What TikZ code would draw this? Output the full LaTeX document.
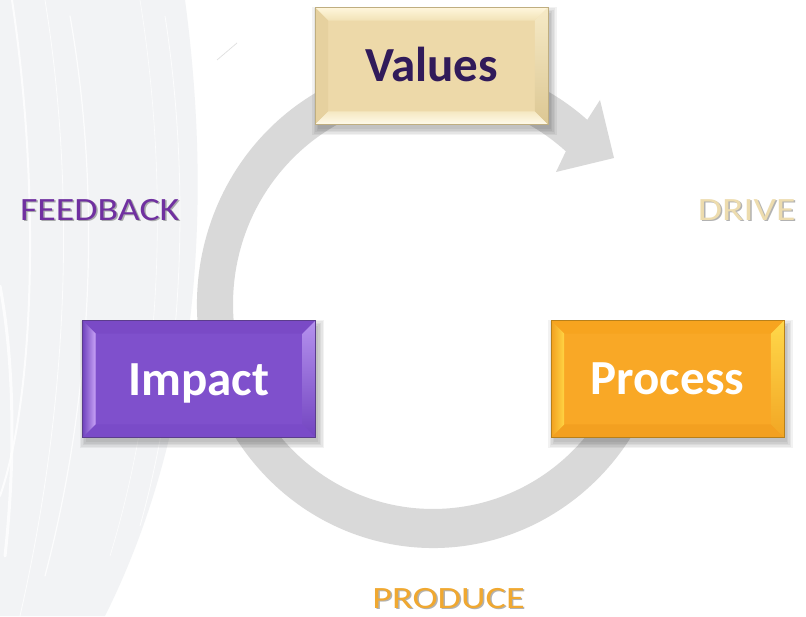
\documentclass[tikz,border=0pt]{standalone}
\usepackage{fontspec}
\setmainfont{Carlito}
\usetikzlibrary{calc}
\definecolor{bandgray}{HTML}{F2F3F5}
\definecolor{ringgray}{HTML}{D9D9D9}
\definecolor{valface}{HTML}{EDD9A9}
\definecolor{valborder}{HTML}{BFAE80}
\definecolor{valtext}{HTML}{311B5A}
\definecolor{impface}{HTML}{7F50CC}
\definecolor{impborder}{HTML}{5B3D8C}
\definecolor{proface}{HTML}{F9A826}
\definecolor{proborder}{HTML}{B8801A}
\definecolor{fbcolor}{HTML}{7030A0}
\definecolor{drcolor}{HTML}{EDDCAE}
\definecolor{prcolor}{HTML}{F0A830}
\definecolor{vTopA}{HTML}{FFF6DC}
\definecolor{vTopB}{HTML}{F1E2B6}
\definecolor{vBotA}{HTML}{F5E8C2}
\definecolor{vBotB}{HTML}{FFFAEA}
\definecolor{vLeft}{HTML}{E6D19F}
\definecolor{vRightA}{HTML}{F6EAC6}
\definecolor{vRightB}{HTML}{DCC793}
\definecolor{iTop}{HTML}{7A4AC6}
\definecolor{iBot}{HTML}{7A4BC8}
\definecolor{iLeftA}{HTML}{7044BE}
\definecolor{iLeftB}{HTML}{C9A3F7}
\definecolor{iRightA}{HTML}{B592EE}
\definecolor{iRightB}{HTML}{7244C0}
\definecolor{pTop}{HTML}{F7A41F}
\definecolor{pBot}{HTML}{F3A020}
\definecolor{pLeftA}{HTML}{F2A020}
\definecolor{pLeftB}{HTML}{FFD444}
\definecolor{pRightA}{HTML}{FFD84A}
\definecolor{pRightB}{HTML}{F2A624}
\newcommand\bevels[5]{%
  \path[#2] (#1.north west) -- (#1.north east) -- ([shift={(-13,-13)}]#1.north east) -- ([shift={(13,-13)}]#1.north west) -- cycle;
  \path[#3] (#1.south west) -- (#1.south east) -- ([shift={(-13,13)}]#1.south east) -- ([shift={(13,13)}]#1.south west) -- cycle;
  \path[#4] (#1.north west) -- (#1.south west) -- ([shift={(13,13)}]#1.south west) -- ([shift={(13,-13)}]#1.north west) -- cycle;
  \path[#5] (#1.north east) -- (#1.south east) -- ([shift={(-13,13)}]#1.south east) -- ([shift={(-13,-13)}]#1.north east) -- cycle;
}
\newcommand\boxshadow[1]{%
  \foreach \s in {0,1.5,3,4.5,6}{
    \fill[black,opacity=0.05] ([shift={(3-\s,-5-\s)}]#1.south west) rectangle ([shift={(3+\s,-5+\s)}]#1.north east);
  }
}
\begin{document}
\begin{tikzpicture}[x=1pt,y=1pt,
  boxbase/.style={rectangle, minimum width=232pt, minimum height=116pt, inner sep=0pt, line width=0.8pt},
  valbox/.style={boxbase, fill=valface},
  impbox/.style={boxbase, fill=impface},
  probox/.style={boxbase, fill=proface},
  bigtext/.style={anchor=base, inner sep=0pt, font=\fontsize{49}{59}\selectfont\bfseries},
  lbl/.style={anchor=base, inner sep=0pt, font=\fontsize{32.5}{39}\selectfont},
  lblsmall/.style={anchor=base, inner sep=0pt, font=\fontsize{31}{37}\selectfont},
  lblshadow/.style={text=black, opacity=0.3},
  streak/.style={white, line cap=round, opacity=0.8}
]
\useasboundingbox (0,0) rectangle (806,616);
\fill[white] (0,0) rectangle (806,616);
% background brush band
\fill[bandgray] (0,616) -- (185,616) .. controls (210,430) and (205,200) .. (105,0) -- (0,0) -- cycle;
\draw[streak, line width=2pt] (12,616) .. controls (40,430) and (35,220) .. (0,120);
\draw[streak, line width=0.8pt] (45,616) .. controls (75,430) and (70,220) .. (20,0);
\draw[streak, line width=1.2pt] (70,600) .. controls (100,430) and (95,230) .. (45,40);
\draw[streak, line width=0.6pt] (140,616) .. controls (168,440) and (165,240) .. (110,60);
\draw[streak, line width=0.8pt] (165,600) .. controls (190,440) and (185,250) .. (140,90);
\draw[streak, line width=3pt] (0,330) .. controls (15,250) and (15,150) .. (5,60);
\draw[black!12, line width=0.7pt] (217,556) -- (237,573);
% circular arrow
\coordinate (C) at (433,311.7);
\fill[ringgray] ($(C)+(-15:236 and 243.7)$)
  arc[start angle=-15, end angle=-310.82, x radius=236, y radius=243.7]
  -- (600,516) -- (614,458) -- (556,444)
  -- ($(C)+(48.37:200 and 204.7)$)
  arc[start angle=-311.63, end angle=-15, x radius=200, y radius=204.7]
  -- cycle;
% boxes
\node[valbox] (values) at (431.5,550) {};
\node[impbox] (impact) at (199,237) {};
\node[probox] (process) at (667.5,237) {};
\boxshadow{values}
\boxshadow{impact}
\boxshadow{process}
\fill[valface] (values.south west) rectangle (values.north east);
\fill[impface] (impact.south west) rectangle (impact.north east);
\fill[proface] (process.south west) rectangle (process.north east);
\bevels{values}{shade, top color=vTopA, bottom color=vTopB}{shade, top color=vBotA, bottom color=vBotB}{fill=vLeft}{shade, top color=vRightA, bottom color=vRightB}
\bevels{impact}{fill=iTop}{fill=iBot}{shade, left color=iLeftA, right color=iLeftB}{shade, top color=iRightA, bottom color=iRightB}
\bevels{process}{fill=pTop}{fill=pBot}{shade, left color=pLeftA, right color=pLeftB}{shade, top color=pRightA, bottom color=pRightB}
\draw[valborder, line width=0.8pt] (values.south west) rectangle (values.north east);
\draw[impborder, line width=0.8pt] (impact.south west) rectangle (impact.north east);
\draw[proborder, line width=0.8pt] (process.south west) rectangle (process.north east);
% box texts
\node[bigtext, text=valtext] (valuesT) at ([yshift=-16pt]values.center) {Values};
\node[bigtext, text=white] (impactT) at ([yshift=-17pt]impact.center) {Impact};
\node[bigtext, text=white] (processT) at ([yshift=-16pt]process.center) {Process};
% labels with shadows
\node[lbl, lblshadow] (feedbackS) at (101.2,394) {\scalebox{1.165}[1]{FEEDBACK}};
\node[lbl, text=fbcolor] (feedback) at (99.7,395.5) {\scalebox{1.165}[1]{FEEDBACK}};
\node[lbl, lblshadow] (driveS) at (748.2,394) {\scalebox{1.22}[1]{DRIVE}};
\node[lbl, text=drcolor] (drive) at (746.7,395.5) {\scalebox{1.22}[1]{DRIVE}};
\node[lblsmall, lblshadow] (produceS) at (450,6.5) {\scalebox{1.23}[1]{PRODUCE}};
\node[lblsmall, text=prcolor] (produce) at (448.5,8) {\scalebox{1.23}[1]{PRODUCE}};
\end{tikzpicture}
\end{document}
